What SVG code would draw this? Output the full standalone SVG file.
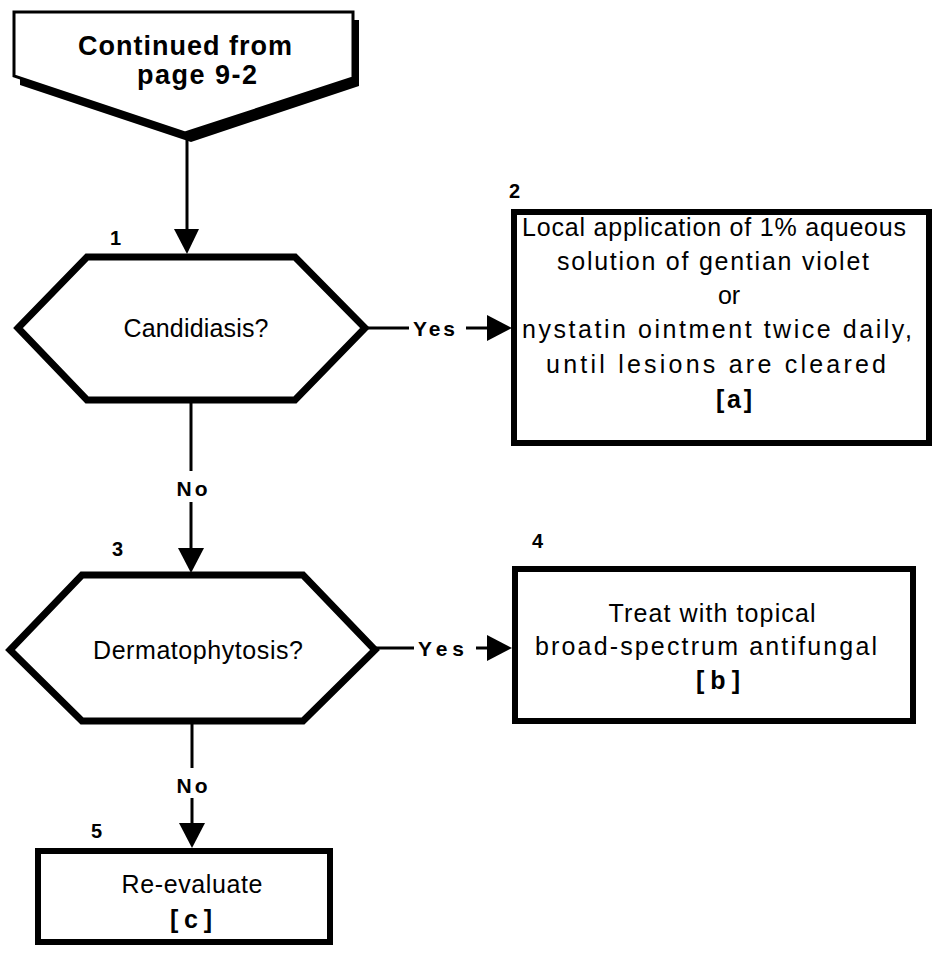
<svg xmlns="http://www.w3.org/2000/svg" width="937" height="959" viewBox="0 0 937 959">
  <style>
    .shape { fill: #fff; stroke: #000; stroke-width: 6; stroke-linejoin: miter; }
    .hex { fill: #fff; stroke: #000; stroke-width: 7; stroke-linejoin: miter; }
    .line { stroke: #000; stroke-width: 3; fill: none; }
    .head { fill: #000; }
    .txt { font-family: "Liberation Sans", Arial, Helvetica, sans-serif; font-size: 25px; fill: #000; text-anchor: middle; }
    .bold { font-family: "Liberation Sans", Arial, Helvetica, sans-serif; font-weight: bold; fill: #000; text-anchor: middle; }
    .lbl { font-family: "Liberation Sans", Arial, Helvetica, sans-serif; font-weight: bold; font-size: 20px; fill: #000; }
    .edge { font-family: "Liberation Sans", Arial, Helvetica, sans-serif; font-weight: bold; font-size: 21px; fill: #000; text-anchor: middle; }
  </style>
  <rect width="937" height="959" fill="#fff"/>

  <!-- off-page connector -->
  <g id="start">
    <polygon points="20,20 359,20 359,86 191,142 20,85" fill="#000"/>
    <polygon points="14,12 353,12 353,78 185,133 14,76" fill="#fff" stroke="#000" stroke-width="3"/>
    <text class="bold" x="185" y="55" font-size="27" textLength="214" lengthAdjust="spacing">Continued from</text>
    <text class="bold" x="197" y="84" font-size="27" textLength="120" lengthAdjust="spacing">page 9-2</text>
  </g>

  <!-- decision 1 -->
  <g id="n1">
    <polygon class="hex" points="18,328 87,257 295,257 365,328 295,400 87,400"/>
    <text class="txt" x="196" y="337" textLength="145" lengthAdjust="spacing">Candidiasis?</text>
    <text class="lbl" x="110" y="245">1</text>
  </g>

  <!-- action 2 -->
  <g id="n2">
    <rect class="shape" x="514" y="212" width="415" height="231"/>
    <text class="lbl" x="509" y="198">2</text>
    <text class="txt" x="714" y="236" textLength="384" lengthAdjust="spacing">Local application of 1% aqueous</text>
    <text class="txt" x="713" y="270" textLength="312" lengthAdjust="spacing">solution of gentian violet</text>
    <text class="txt" x="729" y="304">or</text>
    <text class="txt" x="717" y="338" textLength="390" lengthAdjust="spacing">nystatin ointment twice daily,</text>
    <text class="txt" x="716" y="373" textLength="340" lengthAdjust="spacing">until lesions are cleared</text>
    <text class="bold" x="734" y="408" font-size="25" textLength="36" lengthAdjust="spacing">[ a ]</text>
  </g>

  <!-- decision 3 -->
  <g id="n3">
    <polygon class="hex" points="10,650 82,575 303,575 375,650 303,721 82,721"/>
    <text class="txt" x="198" y="659" textLength="210" lengthAdjust="spacing">Dermatophytosis?</text>
    <text class="lbl" x="112" y="556">3</text>
  </g>

  <!-- action 4 -->
  <g id="n4">
    <rect class="shape" x="515" y="569" width="398" height="152"/>
    <text class="lbl" x="532" y="548">4</text>
    <text class="txt" x="712" y="622" textLength="207" lengthAdjust="spacing">Treat with topical</text>
    <text class="txt" x="706" y="655" textLength="342" lengthAdjust="spacing">broad-spectrum antifungal</text>
    <text class="bold" x="718" y="689" font-size="25" textLength="44" lengthAdjust="spacing">[ b ]</text>
  </g>

  <!-- action 5 -->
  <g id="n5">
    <rect class="shape" x="38" y="851" width="292" height="91"/>
    <text class="lbl" x="91" y="838">5</text>
    <text class="txt" x="192" y="893" textLength="141" lengthAdjust="spacing">Re-evaluate</text>
    <text class="bold" x="191" y="928" font-size="25" textLength="42" lengthAdjust="spacing">[ c ]</text>
  </g>

  <!-- connectors -->
  <g id="connectors">
    <line class="line" x1="187" y1="140" x2="187" y2="232"/>
    <polygon class="head" points="174,229 199,229 187,254"/>

    <line class="line" x1="365" y1="328" x2="409" y2="328"/>
    <text class="edge" x="434" y="336" textLength="42" lengthAdjust="spacing">Yes</text>
    <line class="line" x1="466" y1="328" x2="490" y2="328"/>
    <polygon class="head" points="487,315 487,341 512,328"/>

    <line class="line" x1="191" y1="403" x2="191" y2="471"/>
    <text class="edge" x="192" y="496" textLength="31" lengthAdjust="spacing">No</text>
    <line class="line" x1="191" y1="502" x2="191" y2="550"/>
    <polygon class="head" points="178,548 204,548 191,573"/>

    <line class="line" x1="375" y1="648" x2="414" y2="648"/>
    <text class="edge" x="441" y="656" textLength="46" lengthAdjust="spacing">Yes</text>
    <line class="line" x1="476" y1="648" x2="490" y2="648"/>
    <polygon class="head" points="487,635 487,661 512,648"/>

    <line class="line" x1="192" y1="724" x2="192" y2="768"/>
    <text class="edge" x="192" y="793" textLength="31" lengthAdjust="spacing">No</text>
    <line class="line" x1="192" y1="798" x2="192" y2="826"/>
    <polygon class="head" points="179,823 205,823 192,848"/>
  </g>
</svg>
